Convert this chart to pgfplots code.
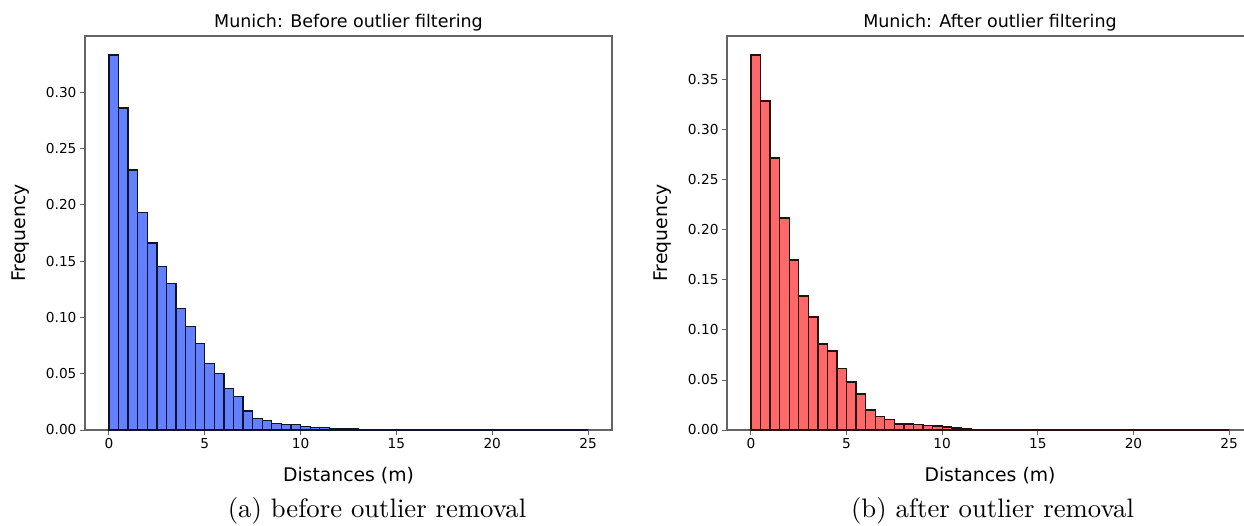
\documentclass[border=0pt]{standalone}
\usepackage{pgfplots}
\pgfplotsset{compat=1.18}
\usepackage{pgfplotstable}
\usepackage{fontspec}
\newfontfamily\dejavu{DejaVu Sans}
\newfontfamily\capfont{lmroman10-regular.otf}
\definecolor{barblue}{RGB}{98,128,255}
\definecolor{barred}{RGB}{255,104,104}
\definecolor{spine}{RGB}{100,100,100}

\pgfplotstableread{
x y
0.0 0.333
0.5 0.286
1.0 0.231
1.5 0.193
2.0 0.166
2.5 0.145
3.0 0.130
3.5 0.108
4.0 0.092
4.5 0.077
5.0 0.059
5.5 0.050
6.0 0.037
6.5 0.030
7.0 0.017
7.5 0.0105
8.0 0.0086
8.5 0.0056
9.0 0.0047
9.5 0.0047
10.0 0.0030
10.5 0.0024
11.0 0.0020
11.5 0.0012
12.0 0.0012
12.5 0.0010
13.0 0.0003
13.5 0.0002
14.0 0.0002
14.5 0.0001
15.0 0.0001
15.5 0.0001
16.0 0
16.5 0
17.0 0
17.5 0
18.0 0
18.5 0
19.0 0
19.5 0
20.0 0
20.5 0
21.0 0
21.5 0
22.0 0
22.5 0
23.0 0
23.5 0
24.0 0
24.5 0
25.0 0
}\before

\pgfplotstableread{
x y
0.0 0.375
0.5 0.329
1.0 0.272
1.5 0.212
2.0 0.170
2.5 0.134
3.0 0.113
3.5 0.086
4.0 0.079
4.5 0.0615
5.0 0.048
5.5 0.036
6.0 0.020
6.5 0.0137
7.0 0.0105
7.5 0.0060
8.0 0.0060
8.5 0.0053
9.0 0.0043
9.5 0.0040
10.0 0.0030
10.5 0.0020
11.0 0.0010
11.5 0
12.0 0
12.5 0
13.0 0
13.5 0
14.0 0
14.5 0
15.0 0
15.5 0
16.0 0
16.5 0
17.0 0
17.5 0
18.0 0
18.5 0
19.0 0
19.5 0
20.0 0
20.5 0
21.0 0
21.5 0
22.0 0
22.5 0
23.0 0
23.5 0
24.0 0
24.5 0
25.0 0
}\after

\pgfplotsset{
  hist/.style={
    scale only axis, height=394pt, anchor=south west,
    xmin=-1.25, xmax=26.25, ymin=0,
    xtick={0,5,10,15,20,25},
    xtick pos=lower, ytick pos=left,
    tick align=outside, major tick length=5pt,
    tick style={spine, line width=1pt},
    axis line style={spine, line width=1.3pt},
    tick label style={font=\dejavu\fontsize{13.7}{14}\selectfont},
    /pgf/number format/assume math mode=true,
    yticklabel style={/pgf/number format/fixed, /pgf/number format/fixed zerofill, /pgf/number format/precision=2},
    scaled y ticks=false,
  }
}

\begin{document}
\begin{tikzpicture}[x=1pt,y=1pt]
\useasboundingbox (0,0) rectangle (1244,525);

\begin{axis}[hist, at={(85pt,95pt)}, width=527pt, ymax=0.35,
  ytick={0,0.05,0.10,0.15,0.20,0.25,0.30}]
\addplot[ybar interval, fill=barblue, draw=black!85!barblue, line width=1.3pt, line join=miter] table {\before};
\end{axis}

\begin{axis}[hist, at={(727pt,95pt)}, width=526pt, ymax=0.394,
  ytick={0,0.05,0.10,0.15,0.20,0.25,0.30,0.35}]
\addplot[ybar interval, fill=barred, draw=black!85!barred, line width=1.3pt, line join=miter] table {\after};
\end{axis}

% titles
\node[anchor=base, font=\dejavu\fontsize{17.5}{18}\selectfont] at (348.5,497.7) {Munich: Before outlier filtering};
\node[anchor=base, font=\dejavu\fontsize{17.5}{18}\selectfont] at (990,497.7) {Munich: After outlier filtering};
% x labels
\node[anchor=base, font=\dejavu\fontsize{18.8}{19}\selectfont] at (348.5,43.3) {Distances (m)};
\node[anchor=base, font=\dejavu\fontsize{18.8}{19}\selectfont] at (990,43.3) {Distances (m)};
% y labels
\node[anchor=base, rotate=90, font=\dejavu\fontsize{18.8}{19}\selectfont] at (25.5,292) {Frequency};
\node[anchor=base, rotate=90, font=\dejavu\fontsize{18.8}{19}\selectfont] at (667.5,292) {Frequency};
% captions
\node[anchor=base, font=\capfont\fontsize{26.7}{30}\selectfont] at (377,7.5) {(a) before outlier removal};
\node[anchor=base, font=\capfont\fontsize{26.7}{30}\selectfont] at (992.5,7.5) {(b) after outlier removal};
\end{tikzpicture}
\end{document}
